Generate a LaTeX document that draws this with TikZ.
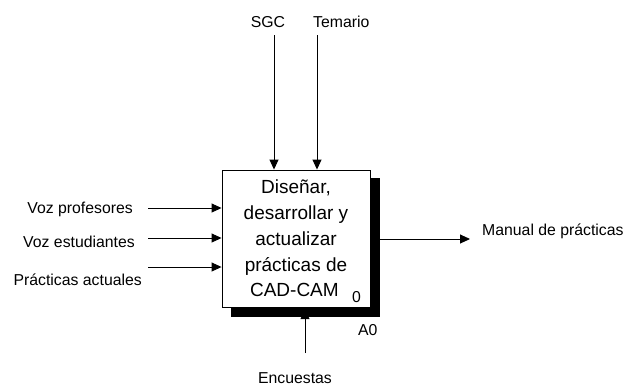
\documentclass[tikz,border=0pt]{standalone}
\usepackage{fontspec}
\setmainfont{Liberation Sans}
\usetikzlibrary{arrows.meta, positioning, backgrounds}

\begin{document}
\begin{tikzpicture}[x=1pt, y=-1pt,
    func/.style={draw, fill=white, line width=0.9pt, minimum width=148pt, minimum height=137pt, inner sep=0pt, align=center, font=\fontsize{19}{25.75}\selectfont},
    shadowbox/.style={fill=black, inner sep=0pt, minimum width=149pt, minimum height=139pt},
    lbl/.style={inner sep=0pt, font=\fontsize{15.8}{18}\selectfont},
    arr/.style={-{Triangle[length=10pt, width=9pt]}, line width=0.9pt},
]
\useasboundingbox (0,0) rectangle (626,386);

\node[shadowbox] (shadow) at (305.5,247.5) {};
\node[func] (box) at (296,238.5) {Diseñar,\\desarrollar y\\actualizar\\prácticas de\\CAD-CAM\,};
\node[lbl, anchor=base west] (bnum) at (352,302) {0};
\node[lbl, anchor=base west] (anum) at (358,335) {A0};

\node[lbl, anchor=base] (sgc) at (268,27) {SGC};
\node[lbl, anchor=base west] (tem) at (313,27) {Temario};
\node[lbl, anchor=base east] (vprof) at (133,213) {Voz profesores};
\node[lbl, anchor=base east] (vest) at (135,247) {Voz estudiantes};
\node[lbl, anchor=base east] (pact) at (142,285) {Prácticas actuales};
\node[lbl, anchor=base west] (man) at (482,235) {Manual de prácticas};
\node[lbl, anchor=base] (enc) at (295,383) {Encuestas};

\coordinate (sgc0) at (274,35);
\coordinate (tem0) at (317,35);
\coordinate (vprof0) at (148,208);
\coordinate (vest0) at (148,238);
\coordinate (pact0) at (148,267);
\coordinate (man0) at (470,239);
\coordinate (enc0) at (305,353);

\draw[arr] (sgc0) -- (sgc0 |- box.north);
\draw[arr] (tem0) -- (tem0 |- box.north);
\draw[arr] (vprof0) -- (vprof0 -| box.west);
\draw[arr] (vest0) -- (vest0 -| box.west);
\draw[arr] (pact0) -- (pact0 -| box.west);
\draw[arr] (man0 -| box.east) -- (man0);
\begin{scope}[on background layer]
\draw[arr] (enc0) -- ([yshift=8pt]enc0 |- shadow.south);
\end{scope}

\end{tikzpicture}
\end{document}
